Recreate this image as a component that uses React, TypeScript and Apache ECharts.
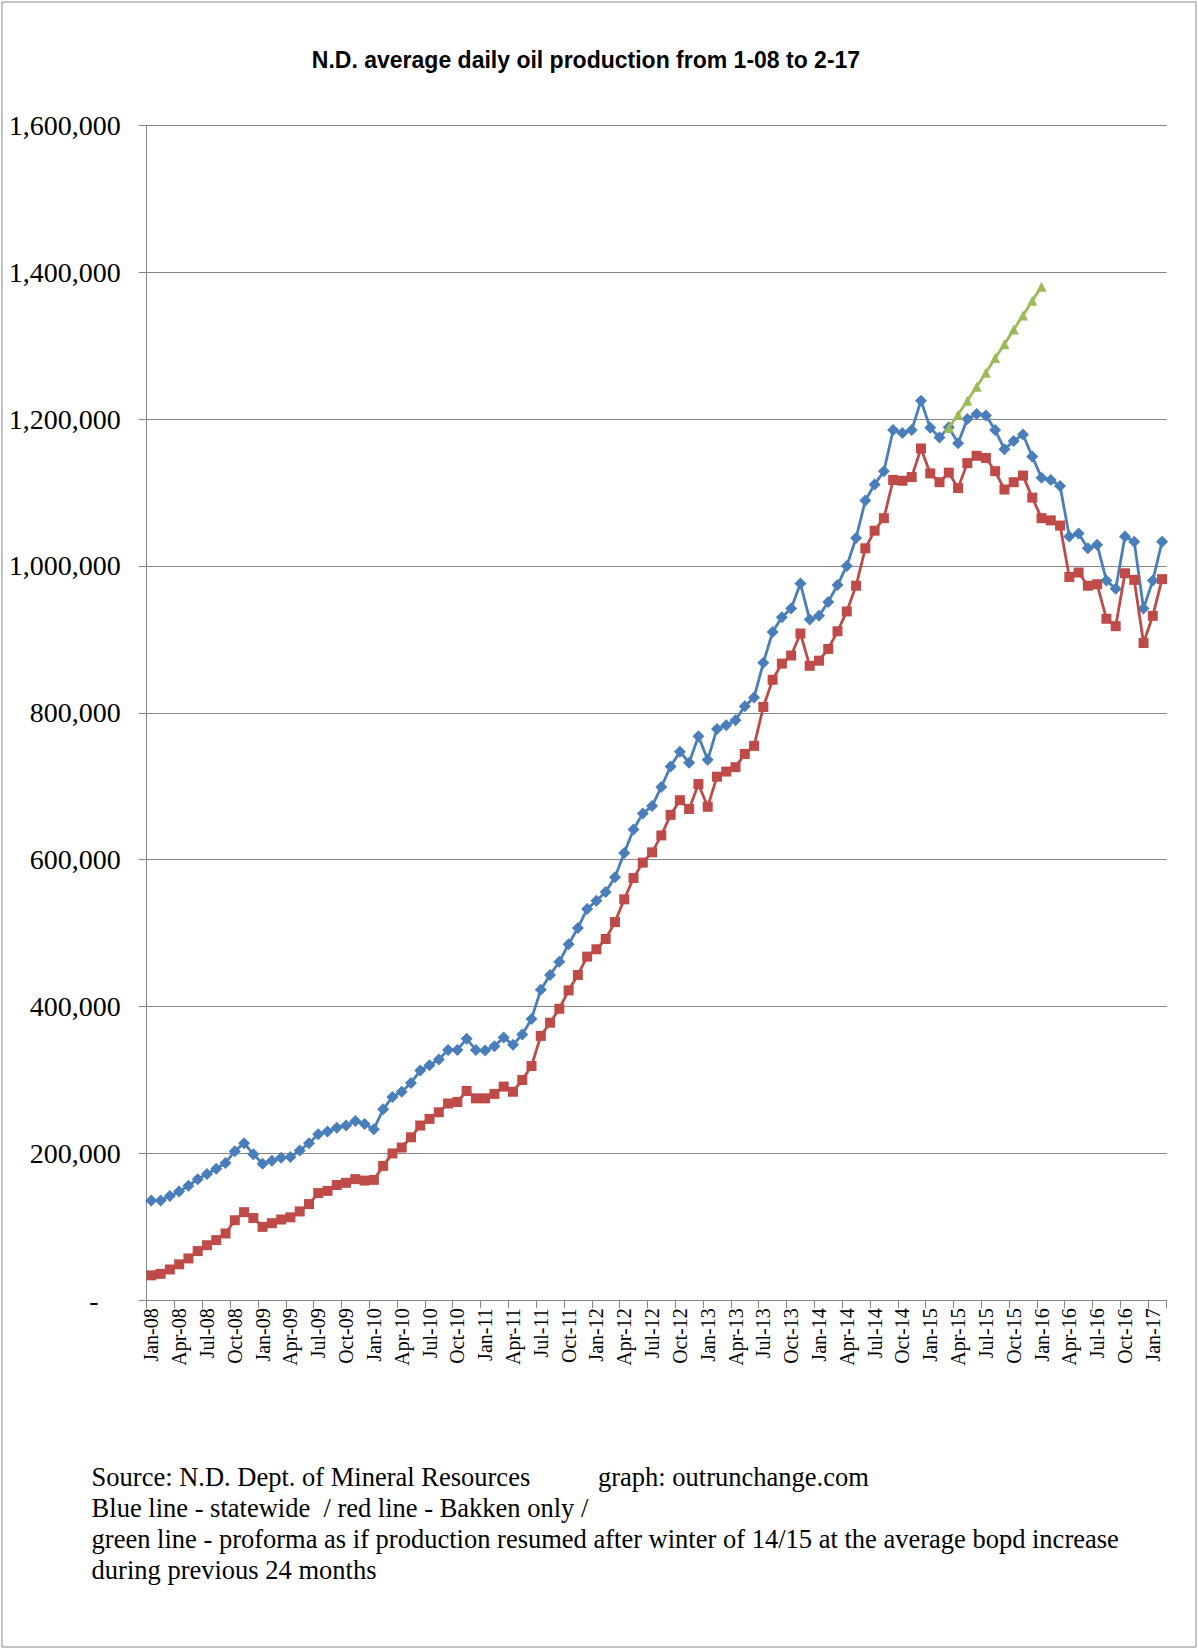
import React, { useEffect, useRef } from "react";
import * as echarts from "echarts";

const MONTHS = ["Jan", "Feb", "Mar", "Apr", "May", "Jun", "Jul", "Aug", "Sep", "Oct", "Nov", "Dec"];
const YEARS = ["08", "09", "10", "11", "12", "13", "14", "15", "16", "17"];
const CATEGORIES = YEARS.flatMap((y) => MONTHS.map((m) => `${m}-${y}`)).slice(0, 110);

// Statewide (blue), bopd
const STATEWIDE = [
  136000, 136000, 142000, 148000, 156000, 165000, 172000, 179000, 187000, 203000, 214000, 199000,
  186000, 190000, 194000, 195000, 204000, 214000, 226000, 230000, 235000, 238000, 244000, 240000,
  233000, 260000, 277000, 284000, 296000, 313000, 320000, 328000, 341000, 341000, 356000, 341000,
  340000, 346000, 358000, 348000, 362000, 383000, 423000, 443000, 461000, 485000, 507000, 533000,
  544000, 556000, 576000, 609000, 641000, 663000, 673000, 699000, 727000, 747000, 732000, 768000,
  736000, 778000, 783000, 790000, 809000, 821000, 868000, 910000, 930000, 942000, 976000, 927000,
  932000, 951000, 974000, 1000000, 1038000, 1089000, 1111000, 1129000, 1185000, 1181000, 1185000, 1225000,
  1188000, 1175000, 1189000, 1167000, 1200000, 1207000, 1205000, 1185000, 1159000, 1170000, 1179000, 1149000,
  1120000, 1117000, 1109000, 1040000, 1044000, 1024000, 1029000, 980000, 969000, 1040000, 1033000, 942000,
  980000, 1033000,
];

// Bakken only (red), bopd
const BAKKEN = [
  34000, 36000, 42000, 49000, 57000, 67000, 75000, 82000, 91000, 109000, 120000, 112000,
  100000, 105000, 110000, 113000, 121000, 131000, 146000, 149000, 157000, 160000, 165000, 163000,
  164000, 183000, 200000, 208000, 222000, 238000, 247000, 256000, 268000, 270000, 285000, 275000,
  275000, 281000, 291000, 284000, 300000, 319000, 360000, 378000, 397000, 422000, 443000, 468000,
  478000, 492000, 515000, 546000, 575000, 596000, 610000, 633000, 661000, 681000, 669000, 703000,
  672000, 713000, 720000, 726000, 744000, 755000, 808000, 845000, 867000, 878000, 908000, 864000,
  871000, 887000, 911000, 938000, 973000, 1024000, 1048000, 1065000, 1117000, 1116000, 1121000, 1160000,
  1126000, 1114000, 1127000, 1106000, 1140000, 1150000, 1147000, 1129000, 1104000, 1114000, 1123000, 1093000,
  1065000, 1062000, 1055000, 985000, 991000, 973000, 975000, 928000, 918000, 990000, 981000, 895000,
  932000, 982000,
];

// Proforma (green), Mar-15 .. Jan-16
const PROFORMA_START = "Mar-15";
const PROFORMA = [1188000, 1206000, 1225000, 1244000, 1263000, 1283000, 1302000, 1322000, 1341000, 1361000, 1380000];

const Y_MIN = 0;
const Y_MAX = 1600000;
const Y_STEP = 200000;

const TITLE = "N.D. average daily oil production from 1-08 to 2-17";
const NOTES = [
  "Blue line - statewide  / red line - Bakken only /",
  "green line - proforma as if production resumed after winter of 14/15 at the average bopd increase",
  "during previous 24 months",
];
const SOURCE = "Source: N.D. Dept. of Mineral Resources";
const CREDIT = "graph: outrunchange.com";

const W = 1198;
const H = 1649;
const SERIF = "'Liberation Serif', 'Times New Roman', serif";

export default function App() {
  const ref = useRef<HTMLDivElement>(null);

  useEffect(() => {
    document.body.style.margin = "0";
    if (!ref.current) return;
    const chart = echarts.init(ref.current, null, { renderer: "svg" });

    const startIdx = CATEGORIES.indexOf(PROFORMA_START);
    const green = CATEGORIES.map((_, i) =>
      i >= startIdx && i < startIdx + PROFORMA.length ? PROFORMA[i - startIdx] : null
    );

    const axisColor = "#868686";

    chart.setOption({
      animation: false,
      backgroundColor: "#ffffff",
      grid: { left: 146.7, right: 31.3, top: 125.3, bottom: 348.7, containLabel: false },
      xAxis: {
        type: "category",
        data: CATEGORIES,
        boundaryGap: true,
        axisLine: { show: true, lineStyle: { color: axisColor, width: 1 } },
        axisTick: { show: true, interval: 2, length: 8, lineStyle: { color: axisColor } },
        axisLabel: {
          interval: 2,
          rotate: 90,
          margin: 8,
          fontFamily: SERIF,
          fontSize: 20,
          color: "#000",
        },
        splitLine: { show: false },
      },
      yAxis: {
        type: "value",
        min: Y_MIN,
        max: Y_MAX,
        interval: Y_STEP,
        axisLine: { show: true, lineStyle: { color: axisColor, width: 1 } },
        axisTick: { show: true, length: 8, lineStyle: { color: axisColor } },
        splitLine: { show: true, lineStyle: { color: axisColor, width: 1 } },
        axisLabel: {
          margin: 26,
          fontFamily: SERIF,
          fontSize: 28,
          color: "#000",
          formatter: (v: number) => (v === 0 ? "{z|-}" : v.toLocaleString("en-US")),
          rich: {
            z: { fontFamily: SERIF, fontSize: 28, color: "#000", padding: [0, 22, 0, 0] },
          },
        },
      },
      series: [
        {
          name: "Statewide",
          type: "line",
          data: STATEWIDE,
          symbol: "diamond",
          symbolSize: 12,
          showAllSymbol: true,
          lineStyle: { color: "#4A7EBB", width: 2.8 },
          itemStyle: { color: "#4A7EBB" },
          z: 2,
        },
        {
          name: "Bakken",
          type: "line",
          data: BAKKEN,
          symbol: "rect",
          symbolSize: 10,
          showAllSymbol: true,
          lineStyle: { color: "#BE4B48", width: 2.8 },
          itemStyle: { color: "#BE4B48" },
          z: 3,
        },
        {
          name: "Proforma",
          type: "line",
          data: green,
          symbol: "triangle",
          symbolSize: 10,
          showAllSymbol: true,
          connectNulls: false,
          lineStyle: { color: "#9BBB59", width: 2.8 },
          itemStyle: { color: "#9BBB59" },
          z: 4,
        },
      ],
      graphic: [
        {
          type: "rect",
          shape: { x: 2, y: 2, width: W - 4, height: H - 4 },
          style: { fill: "none", stroke: "#868686", lineWidth: 1 },
          silent: true,
          z: 0,
        },
        {
          type: "text",
          x: 586,
          y: 60,
          style: {
            text: TITLE,
            fontFamily: "'Liberation Sans', Arial, sans-serif",
            fontWeight: "bold",
            fontSize: 23,
            fill: "#000",
            textAlign: "center",
            textVerticalAlign: "middle",
          },
        },
        {
          type: "text",
          x: 91.6,
          y: 1477,
          style: { text: SOURCE, fontFamily: SERIF, fontSize: 26.5, fill: "#000", textVerticalAlign: "middle" },
        },
        {
          type: "text",
          x: 598,
          y: 1477,
          style: { text: CREDIT, fontFamily: SERIF, fontSize: 26.5, fill: "#000", textVerticalAlign: "middle" },
        },
        ...NOTES.map((t, i) => ({
          type: "text",
          x: 91.6,
          y: 1508 + i * 31,
          style: { text: t, fontFamily: SERIF, fontSize: 26.5, fill: "#000", textVerticalAlign: "middle" },
        })),
      ],
    });

    return () => chart.dispose();
  }, []);

  return <div ref={ref} style={{ width: W, height: H }} />;
}
